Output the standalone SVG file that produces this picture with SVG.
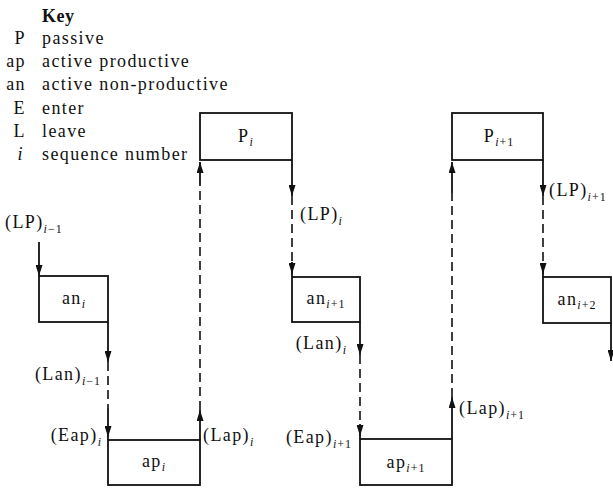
<svg xmlns="http://www.w3.org/2000/svg" width="613" height="488" viewBox="0 0 613 488">
<defs>
<marker id="ah" viewBox="0 0 10 10" refX="10" refY="5" markerWidth="11" markerHeight="7" markerUnits="userSpaceOnUse" orient="auto" preserveAspectRatio="none">
<path d="M0,0 L10,5 L0,10 z" fill="#111"/>
</marker>
<style>
text{font-family:"Liberation Serif","Times New Roman",serif;font-size:18px;fill:#111;letter-spacing:1.4px}
.sub{font-size:12px;font-style:italic;letter-spacing:1px}
.subn{font-size:12px;letter-spacing:1px}
.box{fill:none;stroke:#111;stroke-width:1.8}
.sol{fill:none;stroke:#111;stroke-width:1.8}
.arr{fill:none;stroke:#111;stroke-width:1.8;marker-end:url(#ah)}
.dash{fill:none;stroke:#111;stroke-width:1.6;stroke-dasharray:9 5}
.c{text-anchor:middle}
.e{text-anchor:end}
</style>
</defs>
<rect width="613" height="488" fill="#fff"/>
<g id="key">
<text x="42" y="22" style="font-weight:bold;letter-spacing:0.5px">Key</text>
<text x="26" y="44" class="e">P</text><text x="42" y="44">passive</text>
<text x="26" y="67" class="e">ap</text><text x="42" y="67">active productive</text>
<text x="26" y="90" class="e">an</text><text x="42" y="90">active non-productive</text>
<text x="26" y="114" class="e">E</text><text x="42" y="114">enter</text>
<text x="26" y="137" class="e">L</text><text x="42" y="137">leave</text>
<text x="24" y="160" class="e" style="font-style:italic">i</text><text x="42" y="160">sequence number</text>
</g>
<g id="P_i"><rect class="box" x="200" y="113" width="92" height="47"/><text x="246" y="142" class="c">P<tspan class="sub" dy="4">i</tspan></text></g>
<g id="P_i1"><rect class="box" x="452" y="113" width="91" height="47"/><text x="499" y="142" class="c">P<tspan class="sub" dy="4">i</tspan><tspan class="subn">+1</tspan></text></g>
<g id="an_i"><rect class="box" x="39" y="276" width="69" height="46"/><text x="74" y="304" class="c">an<tspan class="sub" dy="4">i</tspan></text></g>
<g id="an_i1"><rect class="box" x="292" y="277" width="68" height="45"/><text x="326" y="304" class="c">an<tspan class="sub" dy="4">i</tspan><tspan class="subn">+1</tspan></text></g>
<g id="an_i2"><rect class="box" x="543" y="277" width="68" height="46"/><text x="577" y="305" class="c">an<tspan class="sub" dy="4">i</tspan><tspan class="subn">+2</tspan></text></g>
<g id="ap_i"><rect class="box" x="108" y="440" width="92" height="45"/><text x="154" y="467" class="c">ap<tspan class="sub" dy="4">i</tspan></text></g>
<g id="ap_i1"><rect class="box" x="360" y="439" width="92" height="46"/><text x="406" y="468" class="c">ap<tspan class="sub" dy="4">i</tspan><tspan class="subn">+1</tspan></text></g>
<g id="connectors">
<path class="arr" d="M39,242 V276"/>
<path class="arr" d="M108,322 V362"/>
<path class="dash" d="M108,362 V408"/>
<path class="arr" d="M108,408 V437"/>
<path class="sol" d="M108,436 V440"/>
<path class="arr" d="M200,440 V410"/>
<path class="dash" d="M200,410 V185"/>
<path class="arr" d="M200,185 V162"/>
<path class="arr" d="M292,160 V196"/>
<path class="dash" d="M292,196 V262"/>
<path class="arr" d="M292,262 V274"/>
<path class="sol" d="M292,273 V277"/>
<path class="arr" d="M360,322 V355"/>
<path class="dash" d="M360,355 V424"/>
<path class="arr" d="M360,424 V436"/>
<path class="sol" d="M360,435 V439"/>
<path class="arr" d="M452,439 V397"/>
<path class="dash" d="M452,397 V193"/>
<path class="arr" d="M452,193 V162"/>
<path class="arr" d="M543,160 V196"/>
<path class="dash" d="M543,196 V263"/>
<path class="arr" d="M543,263 V274"/>
<path class="sol" d="M543,273 V277"/>
<path class="arr" d="M611,323 V361"/>
</g>
<g id="labels">
<text x="5" y="228">(LP)<tspan class="sub" dy="5">i</tspan><tspan class="subn">−1</tspan></text>
<text x="101" y="380" class="e">(Lan)<tspan class="sub" dy="5">i</tspan><tspan class="subn">−1</tspan></text>
<text x="102" y="441" class="e">(Eap)<tspan class="sub" dy="5">i</tspan></text>
<text x="203" y="441">(Lap)<tspan class="sub" dy="5">i</tspan></text>
<text x="300" y="220">(LP)<tspan class="sub" dy="5">i</tspan></text>
<text x="347" y="349" class="e">(Lan)<tspan class="sub" dy="5">i</tspan></text>
<text x="352" y="443" class="e">(Eap)<tspan class="sub" dy="5">i</tspan><tspan class="subn">+1</tspan></text>
<text x="459" y="414">(Lap)<tspan class="sub" dy="5">i</tspan><tspan class="subn">+1</tspan></text>
<text x="549" y="196">(LP)<tspan class="sub" dy="5">i</tspan><tspan class="subn">+1</tspan></text>
</g>
</svg>
